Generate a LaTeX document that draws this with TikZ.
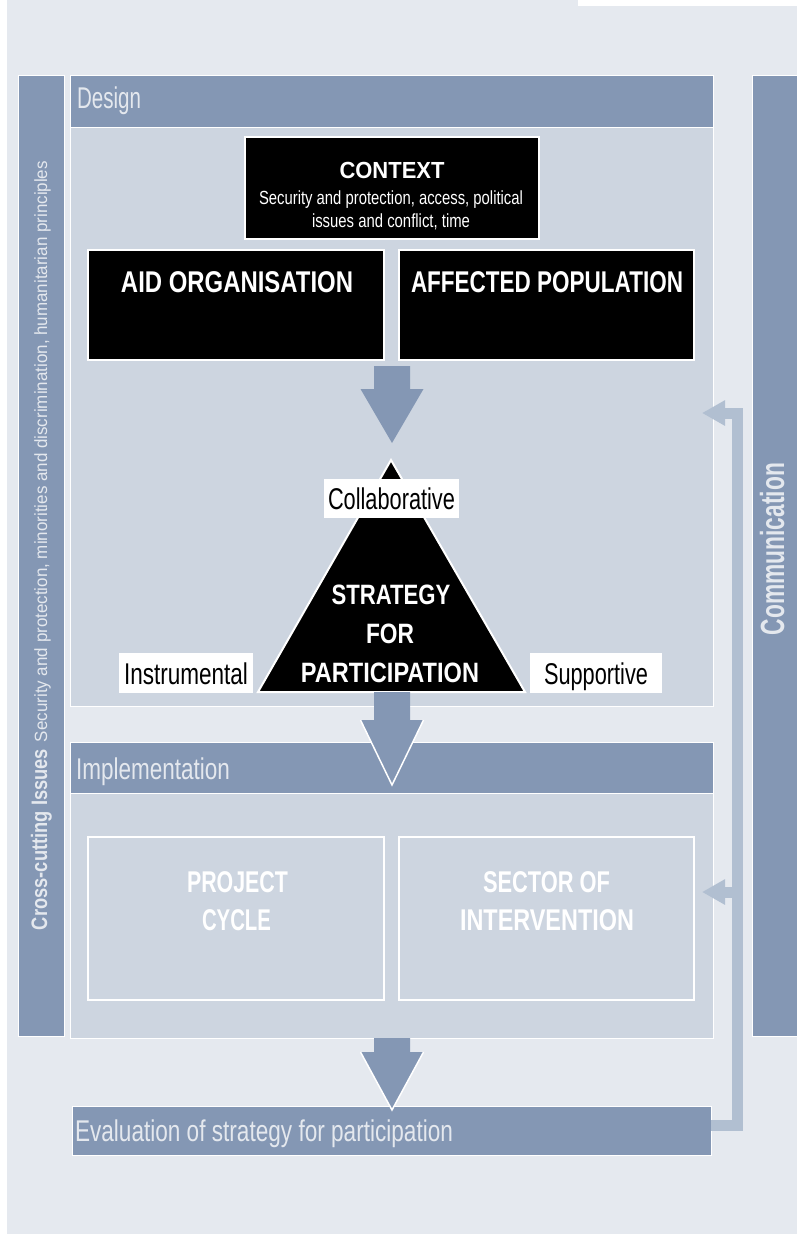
\documentclass[tikz,border=0pt]{standalone}
\usepackage{fontspec}
\usepackage{graphicx}
\setmainfont{Liberation Sans}
\usetikzlibrary{arrows.meta}
\definecolor{bgc}{HTML}{E5E9EF}
\definecolor{barc}{HTML}{8497B4}
\definecolor{panc}{HTML}{CDD5E0}
\definecolor{fbc}{HTML}{B1BFD1}
\definecolor{ltx}{HTML}{E4E8EE}
\newcommand\fw[3]{{\fontsize{#1}{#1}\selectfont\resizebox{#2pt}{\height}{#3}}}
\begin{document}
\begin{tikzpicture}[x=1pt,y=-1pt,
  every node/.style={inner sep=0pt, outer sep=0pt},
  barbox/.style={fill=barc, draw=white, line width=1pt},
  bodybox/.style={fill=panc, draw=white, line width=1pt},
  blkbox/.style={fill=black, draw=white, line width=2pt},
  hollowbox/.style={fill=panc, draw=white, line width=2pt},
  lblbox/.style={fill=white, text=black, text height=22pt, text depth=0pt},
  blockarrow/.style={fill=barc},
  headline/.style={draw=white, line width=1.5pt},
  fbline/.style={draw=fbc, line width=11pt, line join=miter, -{Triangle[length=23pt,width=24pt]}},
  lighttext/.style={text=ltx},
  whitetext/.style={text=white},
]
\useasboundingbox (0,0) rectangle (797,1236);
% background
\fill[white] (0,0) rectangle (797,1236);
\fill[bgc] (7,0) rectangle (797,1234);
\fill[white] (578,0) rectangle (797,6);

% side bars
\node[barbox, minimum width=46pt, minimum height=960pt] (cross) at (41,556) {};
\node[barbox, minimum width=48pt, minimum height=960pt] (comm) at (776,556) {};

% design panel
\node[bodybox, minimum width=643pt, minimum height=630pt] (design) at (391.5,391) {};
\node[barbox, minimum width=643pt, minimum height=52pt] (designh) at (391.5,102) {};
% implementation panel
\node[bodybox, minimum width=643pt, minimum height=296pt] (impl) at (391.5,890) {};
\node[barbox, minimum width=643pt, minimum height=51pt] (implh) at (391.5,767.5) {};
% evaluation
\node[barbox, minimum width=639pt, minimum height=49pt] (eval) at (391.5,1130.5) {};

% black boxes
\node[blkbox, minimum width=294pt, minimum height=102pt] (context) at (392,188) {};
\node[blkbox, minimum width=296pt, minimum height=110pt] (aid) at (236,305) {};
\node[blkbox, minimum width=295pt, minimum height=110pt] (aff) at (546.5,305) {};

% implementation boxes
\node[hollowbox, minimum width=296pt, minimum height=163pt] (proj) at (236,918.5) {};
\node[hollowbox, minimum width=295pt, minimum height=163pt] (sector) at (546.5,918.5) {};

% arrow 1
\fill[blockarrow] (374,366) -- (410,366) -- (410,389) -- (423.5,389) -- (392,443) -- (360.5,389) -- (374,389) -- cycle;

% triangle
\coordinate (apex) at (391,460);
\coordinate (bl) at (258,692);
\coordinate (br) at (525,692);
\filldraw[fill=black, draw=white, line width=2pt, miter limit=3] (apex) -- (br) -- (bl) -- cycle;

% arrow 2
\fill[blockarrow] (374,692) -- (410,692) -- (410,720) -- (423.5,720) -- (392,785) -- (360.5,720) -- (374,720) -- cycle;
\draw[headline] (360.5,720) -- (392,785) -- (423.5,720);
% arrow 3
\fill[blockarrow] (374,1038) -- (410,1038) -- (410,1052) -- (423.5,1052) -- (392,1110) -- (360.5,1052) -- (374,1052) -- cycle;
\draw[headline] (360.5,1052) -- (392,1110) -- (423.5,1052);

% labels of triangle
\node[lblbox, minimum width=135pt, minimum height=39pt] (collab) at (391.5,498.5) {\fw{30}{127}{Collaborative}};
\node[lblbox, minimum width=134pt, minimum height=40pt] (instr) at (186,673) {\fw{30}{124}{Instrumental}};
\node[lblbox, minimum width=132pt, minimum height=40pt] (supp) at (596,673) {\fw{30}{104}{Supportive}};

% feedback connectors
\coordinate (fbstart) at (711,1125.5);
\coordinate (fbcornerlow) at (737.5,1125.5);
\coordinate (fbcornerhigh) at (737.5,413);
\coordinate (fbtipdesign) at (702,413);
\coordinate (fbmid) at (737.5,892);
\coordinate (fbtipimpl) at (702,892);
\draw[fbline] (fbstart) -- (fbcornerlow) -- (fbcornerhigh) -- (fbtipdesign);
\draw[fbline] (fbmid) -- (fbtipimpl);

% texts
\node[lighttext, anchor=base west] (designt) at (77,109) {\fw{30}{64}{Design}};
\node[lighttext, anchor=base west] (implt) at (76,779) {\fw{30}{154}{Implementation}};
\node[lighttext, anchor=base west] (evalt) at (75,1141) {\fw{30}{378}{Evaluation of strategy for participation}};

\node[whitetext, anchor=base] (contextt) at (392,178) {\fw{23.3}{105}{\bfseries CONTEXT}};
\node[whitetext, anchor=base] (contextl1) at (391,204) {\fw{19}{264}{Security and protection, access, political}};
\node[whitetext, anchor=base] (contextl2) at (391,227) {\fw{19}{158}{issues and conflict, time}};

\node[whitetext, anchor=base] (aidt) at (237,292) {\fw{30}{232}{\bfseries AID ORGANISATION}};
\node[whitetext, anchor=base] (afft) at (547,292) {\fw{30}{272}{\bfseries AFFECTED POPULATION}};

\node[whitetext, anchor=base] (strat1) at (391,604) {\fw{28}{119}{\bfseries STRATEGY}};
\node[whitetext, anchor=base] (strat2) at (390,643) {\fw{28}{48}{\bfseries FOR}};
\node[whitetext, anchor=base] (strat3) at (390,682) {\fw{28}{178}{\bfseries PARTICIPATION}};

\node[whitetext, anchor=base] (projt1) at (237.5,892) {\fw{30}{101}{\bfseries PROJECT}};
\node[whitetext, anchor=base] (projt2) at (236.5,930) {\fw{30}{69}{\bfseries CYCLE}};
\node[whitetext, anchor=base] (sect1) at (546.5,892) {\fw{30}{127}{\bfseries SECTOR OF}};
\node[whitetext, anchor=base] (sect2) at (547,930) {\fw{30}{174}{\bfseries INTERVENTION}};

\node[lighttext, rotate=90, anchor=base] (commt) at (784,549) {\fw{33.5}{172}{\bfseries Communication}};
\node[lighttext, rotate=90, anchor=base west] (crosst) at (47,930) {\fw{22.4}{181}{\bfseries Cross-cutting Issues}\hspace{7pt}\fw{17.7}{581}{Security and protection, minorities and discrimination, humanitarian principles}};
\end{tikzpicture}
\end{document}
